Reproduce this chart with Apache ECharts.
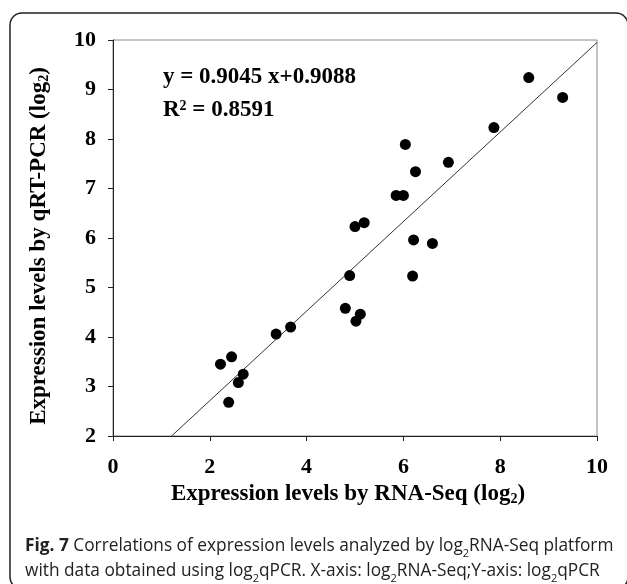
<!DOCTYPE html>
<html>
<head>
<meta charset="utf-8">
<script src="https://cdn.jsdelivr.net/npm/echarts@6/dist/echarts.min.js"></script>
<style>
  html, body { margin: 0; padding: 0; background: #fff; }
  #chart { width: 627px; height: 584px; }
</style>
</head>
<body>
<div id="chart"></div>
<script>
// RNA-Seq (x) vs qRT-PCR (y), both log2
const rnaSeq = [2.22, 2.45, 2.39, 2.59, 2.69, 3.37, 3.67, 4.80, 4.89, 5.00, 5.19, 5.02, 5.11, 6.21, 6.19, 6.60, 6.04, 6.25, 6.93, 5.85, 6.00, 7.87, 8.59, 9.29]
const qPcr   = [3.45, 3.60, 2.68, 3.08, 3.25, 4.06, 4.20, 4.58, 5.24, 6.23, 6.31, 4.32, 4.46, 5.96, 5.23, 5.89, 7.89, 7.34, 7.53, 6.86, 6.86, 8.23, 9.24, 8.84]

// trend line ends as drawn
const fitX = [1.21, 10]
const fitY = [2, 9.95]

const xTicks = [0, 2, 4, 6, 8, 10]
const yTicks = [2, 3, 4, 5, 6, 7, 8, 9, 10]

const serif = '"Liberation Serif", "Times New Roman", serif'
const sans = '"Open Sans", "Noto Sans", sans-serif'

const chart = echarts.init(document.getElementById('chart'))

const subStyle = { fontFamily: serif, fontWeight: 'bold', fontSize: 14, color: '#000', verticalAlign: 'bottom', padding: [9, 0, 0, 0] }

const option = {
  animation: false,
  grid: {
    left: 113,
    right: 30,
    top: 40,
    bottom: 148,
    show: true,
    borderColor: '#888',
    borderWidth: 1
  },
  xAxis: {
    type: 'value',
    min: xTicks[0],
    max: xTicks[xTicks.length - 1],
    interval: 2,
    name: 'Expression levels by RNA-Seq (log{s|2})',
    nameLocation: 'middle',
    nameGap: 44,
    nameTextStyle: {
      fontFamily: serif, fontWeight: 'bold', fontSize: 23, color: '#000',
      padding: [0, 14, 0, 0],
      rich: { s: subStyle }
    },
    axisLine: { lineStyle: { color: '#222', width: 1 } },
    axisTick: { inside: false, length: 5, lineStyle: { color: '#222' } },
    axisLabel: { margin: 20, fontFamily: serif, fontWeight: 'bold', fontSize: 22, color: '#000' },
    splitLine: { show: false }
  },
  yAxis: {
    type: 'value',
    min: yTicks[0],
    max: yTicks[yTicks.length - 1],
    interval: 1,
    name: 'Expression levels by qRT-PCR (log{s|2})',
    nameLocation: 'middle',
    nameGap: 62,
    nameTextStyle: {
      fontFamily: serif, fontWeight: 'bold', fontSize: 23, color: '#000',
      padding: [0, 16, 0, 0],
      rich: { s: subStyle }
    },
    axisLine: { lineStyle: { color: '#222', width: 1 } },
    axisTick: { inside: false, length: 5, lineStyle: { color: '#222' } },
    axisLabel: { margin: 17, fontFamily: serif, fontWeight: 'bold', fontSize: 22, color: '#000' },
    splitLine: { show: false }
  },
  series: [
    {
      type: 'line',
      data: fitX.map((x, i) => [x, fitY[i]]),
      symbol: 'none',
      lineStyle: { color: '#333', width: 1 },
      z: 1
    },
    {
      type: 'scatter',
      data: rnaSeq.map((x, i) => [x, qPcr[i]]),
      symbol: 'circle',
      symbolSize: 11,
      itemStyle: { color: '#000', opacity: 1 },
      z: 2
    }
  ],
  graphic: [
    {
      type: 'rect',
      shape: { x: 10, y: 13, width: 618, height: 576, r: 12 },
      style: { fill: 'none', stroke: '#222', lineWidth: 1.5 },
      silent: true
    },
    {
      type: 'text',
      left: 163,
      top: 66,
      style: {
        text: 'y = 0.9045 x+0.9088',
        font: 'bold 23px ' + serif,
        fill: '#000'
      }
    },
    {
      type: 'text',
      left: 163,
      top: 99,
      style: {
        text: 'R{sup|2} = 0.8591',
        font: 'bold 23px ' + serif,
        fill: '#000',
        rich: {
          sup: { font: 'bold 14px ' + serif, fill: '#000', verticalAlign: 'top', padding: [0, 0, 9, 0] }
        }
      }
    },
    {
      type: 'text',
      left: 25,
      top: 534,
      style: {
        text: '{b|Fig. 7} Correlations of expression levels analyzed by log{s|2}RNA-Seq platform\nwith data obtained using log{s|2}qPCR. X-axis: log{s|2}RNA-Seq;Y-axis: log{s|2}qPCR',
        font: '17.3px ' + sans,
        fill: '#222',
        lineHeight: 25,
        rich: {
          b: { font: 'bold 17.3px ' + sans, fill: '#222', lineHeight: 25 },
          s: { font: '11px ' + sans, fill: '#222', verticalAlign: 'bottom', padding: [6, 0, 0, 0], lineHeight: 25 }
        }
      }
    }
  ]
}

chart.setOption(option)
</script>
</body>
</html>
